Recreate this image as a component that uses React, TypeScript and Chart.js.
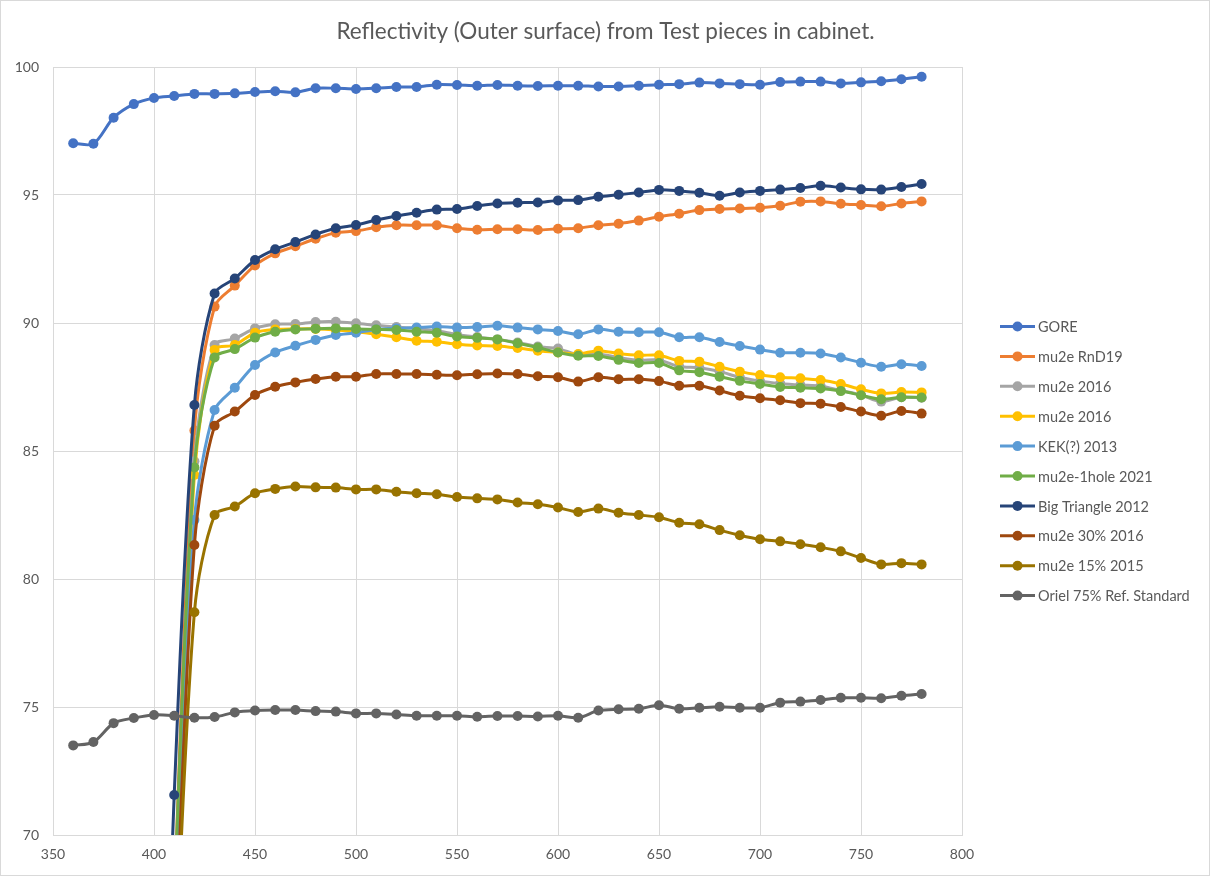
import React, { useEffect, useRef } from "react";
import { Chart, registerables } from "chart.js";

Chart.register(...registerables);

const titleText = "Reflectivity (Outer surface) from Test pieces in cabinet.";

const wavelengthsFrom360 = [
  360, 370, 380, 390, 400, 410, 420, 430, 440, 450, 460, 470, 480, 490, 500,
  510, 520, 530, 540, 550, 560, 570, 580, 590, 600, 610, 620, 630, 640, 650,
  660, 670, 680, 690, 700, 710, 720, 730, 740, 750, 760, 770, 780,
];
const wavelengthsFrom400 = [
  400, 410, 420, 430, 440, 450, 460, 470, 480, 490, 500, 510, 520, 530, 540,
  550, 560, 570, 580, 590, 600, 610, 620, 630, 640, 650, 660, 670, 680, 690,
  700, 710, 720, 730, 740, 750, 760, 770, 780,
];

const xTickValues = [350, 400, 450, 500, 550, 600, 650, 700, 750, 800];
const yTickValues = [70, 75, 80, 85, 90, 95, 100];

const gore = [
  97.02, 97.0, 98.02, 98.55, 98.79, 98.87, 98.95, 98.95, 98.97, 99.02, 99.05,
  99.01, 99.17, 99.17, 99.14, 99.17, 99.22, 99.22, 99.31, 99.3, 99.27, 99.3,
  99.27, 99.26, 99.27, 99.27, 99.24, 99.24, 99.27, 99.31, 99.33, 99.39, 99.36,
  99.33, 99.31, 99.41, 99.43, 99.43, 99.36, 99.4, 99.44, 99.52, 99.62,
];
const mu2eRnD19 = [
  45, 67.4, 85.8, 90.64, 91.46, 92.25, 92.72, 93.0, 93.29, 93.53, 93.59, 93.74,
  93.82, 93.82, 93.82, 93.7, 93.64, 93.66, 93.66, 93.63, 93.68, 93.7, 93.82,
  93.88, 94.0, 94.15, 94.27, 94.41, 94.45, 94.47, 94.5, 94.58, 94.74, 94.75,
  94.66, 94.61, 94.56, 94.67, 94.75,
];
const mu2e2016Gray = [
  45, 66.6, 84.6, 89.14, 89.39, 89.79, 89.95, 89.96, 90.04, 90.05, 89.99, 89.91,
  89.84, 89.78, 89.7, 89.55, 89.45, 89.36, 89.24, 89.08, 89.0, 88.76, 88.79,
  88.65, 88.55, 88.55, 88.3, 88.25, 88.1, 87.88, 87.73, 87.64, 87.58, 87.54,
  87.36, 87.19, 86.93, 87.1, 87.08,
];
const mu2e2016Yellow = [
  42, 65.6, 84.06, 88.95, 89.14, 89.62, 89.75, 89.77, 89.77, 89.73, 89.66,
  89.56, 89.44, 89.31, 89.27, 89.17, 89.12, 89.1, 89.02, 88.92, 88.85, 88.79,
  88.92, 88.81, 88.74, 88.74, 88.52, 88.49, 88.29, 88.1, 87.97, 87.88, 87.84,
  87.77, 87.62, 87.41, 87.25, 87.3, 87.29,
];
const kek2013 = [
  45, 67.1, 82.3, 86.6, 87.47, 88.36, 88.85, 89.11, 89.34, 89.53, 89.62, 89.75,
  89.79, 89.82, 89.86, 89.82, 89.84, 89.89, 89.82, 89.75, 89.69, 89.56, 89.75,
  89.66, 89.64, 89.64, 89.44, 89.44, 89.26, 89.1, 88.96, 88.84, 88.84, 88.81,
  88.65, 88.45, 88.29, 88.39, 88.32,
];
const mu2e1hole2021 = [
  44, 67.3, 84.36, 88.65, 88.98, 89.43, 89.66, 89.75, 89.78, 89.79, 89.77,
  89.75, 89.73, 89.66, 89.62, 89.47, 89.42, 89.36, 89.21, 89.04, 88.85, 88.72,
  88.71, 88.56, 88.44, 88.44, 88.15, 88.08, 87.9, 87.74, 87.62, 87.5, 87.47,
  87.44, 87.34, 87.18, 87.02, 87.1, 87.09,
];
const bigTriangle2012 = [
  50, 71.56, 86.8, 91.15, 91.74, 92.46, 92.88, 93.16, 93.46, 93.7, 93.83, 94.02,
  94.18, 94.31, 94.43, 94.45, 94.57, 94.67, 94.7, 94.71, 94.79, 94.8, 94.93,
  95.01, 95.1, 95.2, 95.16, 95.09, 94.97, 95.1, 95.16, 95.21, 95.27, 95.36,
  95.29, 95.22, 95.21, 95.31, 95.43,
];
const mu2e30pct2016 = [
  42, 64.2, 81.33, 85.99, 86.54, 87.19, 87.51, 87.68, 87.81, 87.9, 87.9, 88.01,
  88.01, 88.01, 87.98, 87.96, 88.0, 88.03, 88.01, 87.92, 87.88, 87.71, 87.88,
  87.8, 87.8, 87.73, 87.55, 87.55, 87.36, 87.16, 87.06, 86.98, 86.87, 86.85,
  86.72, 86.54, 86.38, 86.56, 86.46,
];
const mu2e15pct2015 = [
  40, 63.2, 78.7, 82.5, 82.83, 83.35, 83.52, 83.61, 83.58, 83.57, 83.5, 83.5,
  83.41, 83.35, 83.31, 83.2, 83.15, 83.11, 82.99, 82.92, 82.79, 82.62, 82.75,
  82.59, 82.5, 82.41, 82.2, 82.14, 81.91, 81.71, 81.55, 81.47, 81.36, 81.24,
  81.08, 80.82, 80.57, 80.62, 80.57,
];
const oriel75 = [
  73.5, 73.63, 74.37, 74.57, 74.69, 74.66, 74.58, 74.61, 74.79, 74.86, 74.88,
  74.88, 74.84, 74.82, 74.75, 74.75, 74.71, 74.66, 74.66, 74.66, 74.62, 74.65,
  74.65, 74.63, 74.66, 74.58, 74.86, 74.91, 74.93, 75.07, 74.93, 74.97, 75.01,
  74.97, 74.97, 75.17, 75.21, 75.27, 75.36, 75.36, 75.34, 75.44, 75.51,
];

const seriesNames = [
  "GORE",
  "mu2e RnD19",
  "mu2e 2016",
  "mu2e 2016",
  "KEK(?) 2013",
  "mu2e-1hole 2021",
  "Big Triangle 2012",
  "mu2e 30% 2016",
  "mu2e 15% 2015",
  "Oriel 75% Ref. Standard",
];
const seriesColors = [
  "#4472C4",
  "#ED7D31",
  "#A5A5A5",
  "#FFC000",
  "#5B9BD5",
  "#70AD47",
  "#264478",
  "#9E480E",
  "#997300",
  "#636363",
];
const seriesValues = [
  gore,
  mu2eRnD19,
  mu2e2016Gray,
  mu2e2016Yellow,
  kek2013,
  mu2e1hole2021,
  bigTriangle2012,
  mu2e30pct2016,
  mu2e15pct2015,
  oriel75,
];
const seriesWavelengths = [
  wavelengthsFrom360,
  wavelengthsFrom400,
  wavelengthsFrom400,
  wavelengthsFrom400,
  wavelengthsFrom400,
  wavelengthsFrom400,
  wavelengthsFrom400,
  wavelengthsFrom400,
  wavelengthsFrom400,
  wavelengthsFrom360,
];

const FONT = "Lato, 'Open Sans', sans-serif";
const TEXT_COLOR = "#595959";
const GRID_COLOR = "#d9d9d9";

const sideLegend = {
  id: "sideLegend",
  afterDraw(chart: any) {
    const ctx = chart.ctx;
    const x0 = chart.chartArea.right + 38;
    const y0 = 326.5;
    const step = 29.9;
    chart.data.datasets.forEach((ds: any, i: number) => {
      const y = y0 + i * step;
      ctx.save();
      ctx.strokeStyle = ds.borderColor;
      ctx.lineWidth = 3;
      ctx.beginPath();
      ctx.moveTo(x0, y);
      ctx.lineTo(x0 + 35, y);
      ctx.stroke();
      ctx.fillStyle = ds.borderColor;
      ctx.beginPath();
      ctx.arc(x0 + 17.5, y, 5, 0, Math.PI * 2);
      ctx.fill();
      ctx.fillStyle = TEXT_COLOR;
      ctx.font = `14.5px ${FONT}`;
      ctx.textBaseline = "middle";
      ctx.textAlign = "left";
      ctx.fillText(ds.label, x0 + 38, y + 1);
      ctx.restore();
    });
  },
};

const outerBorder = {
  id: "outerBorder",
  afterDraw(chart: any) {
    const ctx = chart.ctx;
    ctx.save();
    ctx.strokeStyle = GRID_COLOR;
    ctx.lineWidth = 1;
    ctx.strokeRect(0.5, 0.5, chart.width - 2, chart.height - 1);
    ctx.restore();
  },
};

export default function App() {
  const canvasRef = useRef<HTMLCanvasElement | null>(null);

  useEffect(() => {
    const canvas = canvasRef.current;
    if (!canvas) return;
    const n = seriesNames.length;
    const datasets = seriesNames.map((name, i) => ({
      label: name,
      data: seriesWavelengths[i].map((w, j) => ({ x: w, y: seriesValues[i][j] })),
      borderColor: seriesColors[i],
      backgroundColor: seriesColors[i],
      borderWidth: 3,
      pointRadius: 5,
      pointBorderWidth: 0,
      pointBackgroundColor: seriesColors[i],
      tension: 0.3,
      fill: false,
      order: n - i,
    }));

    const chart = new Chart(canvas, {
      type: "line",
      data: { datasets },
      options: {
        animation: false,
        responsive: false,
        devicePixelRatio: 1,
        layout: { padding: { left: 0, right: 0, top: 0, bottom: 0 } },
        plugins: {
          legend: { display: false },
          tooltip: { enabled: false },
          title: {
            display: true,
            text: titleText,
            color: TEXT_COLOR,
            font: { family: FONT, size: 22.5, weight: "normal" },
            padding: { top: 18.5, bottom: 21.5 },
          },
        },
        scales: {
          x: {
            type: "linear",
            min: 350,
            max: 800,
            afterBuildTicks: (scale: any) => {
              scale.ticks = xTickValues.map((v) => ({ value: v }));
            },
            afterFit: (scale: any) => {
              scale.height = 41;
            },
            ticks: {
              color: TEXT_COLOR,
              font: { family: FONT, size: 14 },
              padding: 11,
              maxRotation: 0,
            },
            grid: { color: GRID_COLOR, lineWidth: 1, drawTicks: false },
            border: { color: GRID_COLOR, width: 1 },
          },
          y: {
            type: "linear",
            min: 70,
            max: 100,
            afterBuildTicks: (scale: any) => {
              scale.ticks = yTickValues.map((v) => ({ value: v }));
            },
            afterFit: (scale: any) => {
              scale.width = 53;
            },
            ticks: {
              color: TEXT_COLOR,
              font: { family: FONT, size: 14 },
              padding: 14,
            },
            grid: { color: GRID_COLOR, lineWidth: 1, drawTicks: false },
            border: { color: GRID_COLOR, width: 1 },
          },
          legendSpace: {
            type: "linear",
            position: "right",
            display: true,
            afterFit: (scale: any) => {
              scale.width = 249;
            },
            ticks: { display: false },
            grid: { display: false, drawTicks: false },
            border: { display: false },
          },
        },
      },
      plugins: [sideLegend, outerBorder],
    });

    return () => {
      chart.destroy();
    };
  }, []);

  return (
    <div style={{ position: "fixed", left: 0, top: 0, width: 1211, height: 876, background: "#fff" }}>
      <canvas ref={canvasRef} width={1211} height={876} style={{ width: 1211, height: 876, display: "block" }} />
    </div>
  );
}
